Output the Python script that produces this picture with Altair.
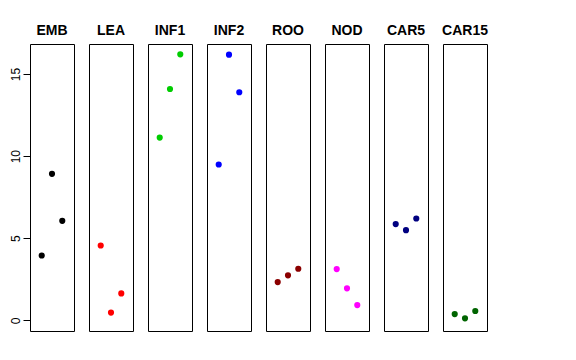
import altair as alt
import pandas as pd

groups = ["EMB", "LEA", "INF1", "INF2", "ROO", "NOD", "CAR5", "CAR15"]
colors = ["#000000", "#FF0000", "#00CD00", "#0000FF", "#8B0000", "#FF00FF", "#000080", "#006400"]
reps = [1, 2, 3]
values = {
    "EMB": [3.95, 8.92, 6.06],
    "LEA": [4.56, 0.47, 1.64],
    "INF1": [11.13, 14.09, 16.2],
    "INF2": [9.49, 16.18, 13.89],
    "ROO": [2.33, 2.74, 3.14],
    "NOD": [3.12, 1.95, 0.93],
    "CAR5": [5.86, 5.49, 6.20],
    "CAR15": [0.38, 0.12, 0.57],
}

rows = []
for g in groups:
    for r, v in zip(reps, values[g]):
        rows.append({"group": g, "rep": r, "value": v})
df = pd.DataFrame(rows)

FONT = "Liberation Sans"

base = alt.Chart(df).mark_point(filled=True, size=38, opacity=1).encode(
    x=alt.X("rep:Q", scale=alt.Scale(domain=[-0.14, 4.14], nice=False, zero=False), axis=None),
    y=alt.Y(
        "value:Q",
        scale=alt.Scale(domain=[-0.65, 16.83], nice=False, zero=False),
        axis=alt.Axis(
            title=None, values=[0, 5, 10, 15], domain=False, grid=False,
            tickSize=7, tickColor="#000000", labelAngle=270, labelAlign="center",
            labelBaseline="bottom", labelPadding=1, labelFontSize=12,
            labelFont=FONT, labelColor="#000000",
        ),
    ),
    color=alt.Color("group:N", scale=alt.Scale(domain=groups, range=colors), legend=None),
).properties(width=44, height=287)

chart = base.facet(
    column=alt.Column(
        "group:N", sort=groups,
        header=alt.Header(title=None, labelFontSize=14, labelFontWeight="bold",
                          labelFont=FONT, labelColor="#000000", labelPadding=6),
    ),
    bounds="flush",
    spacing=15,
).configure_view(
    stroke="#000000", strokeWidth=1
).properties(padding={"left": 0, "top": 16, "right": 5, "bottom": 5})

chart.save("out.html", embed_options={"renderer": "svg", "actions": False})
